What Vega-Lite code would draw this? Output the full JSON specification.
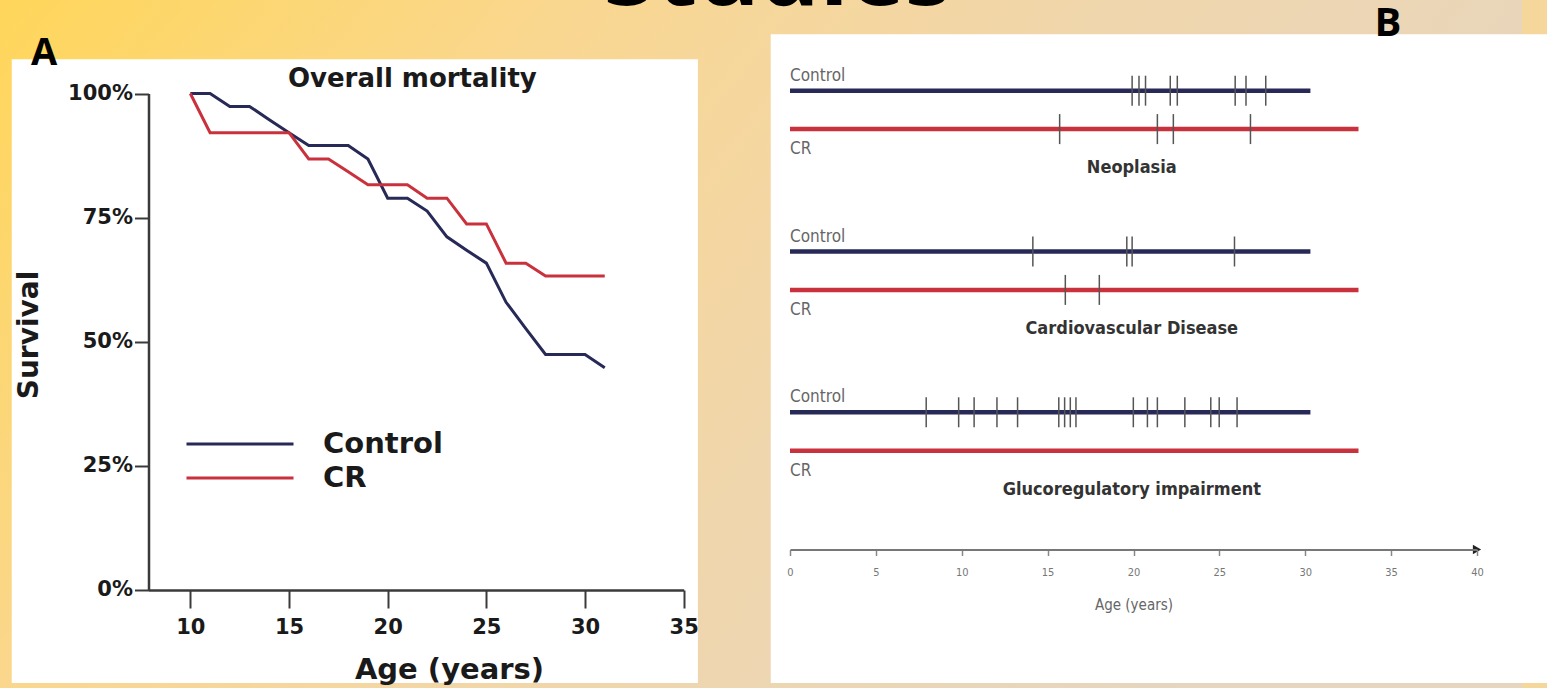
{
  "$schema": "https://vega.github.io/schema/vega-lite/v6.json",
  "width": 1547,
  "height": 688,
  "autosize": {"type": "fit", "contains": "padding"},
  "padding": 0,
  "background": "#F5D79C",
  "config": {"view": {"stroke": null}, "axis": {"grid": false, "zindex": 1}},
  "datasets": {
    "km": [
      {"group": "Control", "age": 10, "survival": 1},
      {"group": "Control", "age": 11, "survival": 1},
      {"group": "Control", "age": 12, "survival": 0.974},
      {"group": "Control", "age": 13, "survival": 0.974},
      {"group": "Control", "age": 14, "survival": 0.947},
      {"group": "Control", "age": 15, "survival": 0.921},
      {"group": "Control", "age": 16, "survival": 0.895},
      {"group": "Control", "age": 18, "survival": 0.895},
      {"group": "Control", "age": 19, "survival": 0.868},
      {"group": "Control", "age": 20, "survival": 0.789},
      {"group": "Control", "age": 21, "survival": 0.789},
      {"group": "Control", "age": 22, "survival": 0.763},
      {"group": "Control", "age": 23, "survival": 0.711},
      {"group": "Control", "age": 24, "survival": 0.684},
      {"group": "Control", "age": 25, "survival": 0.658},
      {"group": "Control", "age": 26, "survival": 0.579},
      {"group": "Control", "age": 27, "survival": 0.526},
      {"group": "Control", "age": 28, "survival": 0.474},
      {"group": "Control", "age": 30, "survival": 0.474},
      {"group": "Control", "age": 31, "survival": 0.447},
      {"group": "CR", "age": 10, "survival": 1},
      {"group": "CR", "age": 11, "survival": 0.921},
      {"group": "CR", "age": 15, "survival": 0.921},
      {"group": "CR", "age": 16, "survival": 0.868},
      {"group": "CR", "age": 17, "survival": 0.868},
      {"group": "CR", "age": 18, "survival": 0.842},
      {"group": "CR", "age": 19, "survival": 0.816},
      {"group": "CR", "age": 21, "survival": 0.816},
      {"group": "CR", "age": 22, "survival": 0.789},
      {"group": "CR", "age": 23, "survival": 0.789},
      {"group": "CR", "age": 24, "survival": 0.737},
      {"group": "CR", "age": 25, "survival": 0.737},
      {"group": "CR", "age": 26, "survival": 0.658},
      {"group": "CR", "age": 27, "survival": 0.658},
      {"group": "CR", "age": 28, "survival": 0.632},
      {"group": "CR", "age": 31, "survival": 0.632}
    ],
    "lines": [
      {"disease": "Neoplasia", "group": "Control", "start": 0, "end": 30.3},
      {"disease": "Neoplasia", "group": "CR", "start": 0, "end": 33.1},
      {"disease": "Cardiovascular Disease", "group": "Control", "start": 0, "end": 30.3},
      {"disease": "Cardiovascular Disease", "group": "CR", "start": 0, "end": 33.1},
      {"disease": "Glucoregulatory impairment", "group": "Control", "start": 0, "end": 30.3},
      {"disease": "Glucoregulatory impairment", "group": "CR", "start": 0, "end": 33.1}
    ],
    "events": [
      {"disease": "Neoplasia", "group": "Control", "age": 19.92},
      {"disease": "Neoplasia", "group": "Control", "age": 20.32},
      {"disease": "Neoplasia", "group": "Control", "age": 20.7},
      {"disease": "Neoplasia", "group": "Control", "age": 22.14},
      {"disease": "Neoplasia", "group": "Control", "age": 22.55},
      {"disease": "Neoplasia", "group": "Control", "age": 25.92},
      {"disease": "Neoplasia", "group": "Control", "age": 26.55},
      {"disease": "Neoplasia", "group": "Control", "age": 27.7},
      {"disease": "Neoplasia", "group": "CR", "age": 15.7},
      {"disease": "Neoplasia", "group": "CR", "age": 21.39},
      {"disease": "Neoplasia", "group": "CR", "age": 22.32},
      {"disease": "Neoplasia", "group": "CR", "age": 26.81},
      {"disease": "Cardiovascular Disease", "group": "Control", "age": 14.14},
      {"disease": "Cardiovascular Disease", "group": "Control", "age": 19.61},
      {"disease": "Cardiovascular Disease", "group": "Control", "age": 19.92},
      {"disease": "Cardiovascular Disease", "group": "Control", "age": 25.88},
      {"disease": "Cardiovascular Disease", "group": "CR", "age": 16.03},
      {"disease": "Cardiovascular Disease", "group": "CR", "age": 18.01},
      {"disease": "Glucoregulatory impairment", "group": "Control", "age": 7.93},
      {"disease": "Glucoregulatory impairment", "group": "Control", "age": 9.82},
      {"disease": "Glucoregulatory impairment", "group": "Control", "age": 10.72},
      {"disease": "Glucoregulatory impairment", "group": "Control", "age": 12.05},
      {"disease": "Glucoregulatory impairment", "group": "Control", "age": 13.25},
      {"disease": "Glucoregulatory impairment", "group": "Control", "age": 15.65},
      {"disease": "Glucoregulatory impairment", "group": "Control", "age": 15.99},
      {"disease": "Glucoregulatory impairment", "group": "Control", "age": 16.32},
      {"disease": "Glucoregulatory impairment", "group": "Control", "age": 16.65},
      {"disease": "Glucoregulatory impairment", "group": "Control", "age": 19.99},
      {"disease": "Glucoregulatory impairment", "group": "Control", "age": 20.81},
      {"disease": "Glucoregulatory impairment", "group": "Control", "age": 21.39},
      {"disease": "Glucoregulatory impairment", "group": "Control", "age": 22.99},
      {"disease": "Glucoregulatory impairment", "group": "Control", "age": 24.5},
      {"disease": "Glucoregulatory impairment", "group": "Control", "age": 24.99},
      {"disease": "Glucoregulatory impairment", "group": "Control", "age": 26.03}
    ]
  },
  "layer": [
    {
      "data": {"values": [{}]},
      "mark": {"type": "rect", "fill": {"gradient": "linear", "x1": 0, "y1": 0, "x2": 1, "y2": 0.35, "stops": [{"offset": 0, "color": "#FFD65A"}, {"offset": 0.35, "color": "#F9D792"}, {"offset": 0.65, "color": "#F0D6AC"}, {"offset": 1, "color": "#E6D5BF"}]}},
      "encoding": {}
    },
    {
      "layer": [
        {
          "data": {"values": [{}]},
          "mark": {"type": "rect", "fill": "white"},
          "encoding": {
            "x": {"datum": 0.95, "type": "quantitative"},
            "x2": {"datum": 35.72},
            "y": {"datum": -0.1885, "type": "quantitative"},
            "y2": {"datum": 1.069}
          }
        },
        {
          "data": {"values": [{}]},
          "mark": {"type": "rect", "fill": "white"},
          "encoding": {
            "x": {"datum": 39.41, "type": "quantitative"},
            "x2": {"datum": 80},
            "y": {"datum": -0.1885, "type": "quantitative"},
            "y2": {"datum": 1.1194}
          }
        },
        {
          "data": {"name": "km"},
          "mark": {"type": "line", "strokeWidth": 3},
          "encoding": {
            "x": {
              "field": "age", "type": "quantitative",
              "scale": {"domain": [7.88, 35], "range": [148.5, 683.7], "nice": false, "zero": false},
              "axis": {
                "orient": "bottom", "offset": -98, "values": [10, 15, 20, 25, 30, 35], "format": "d", "zindex": 1,
                "title": "Age (years)", "titleFont": "DejaVu Sans", "titleFontSize": 29, "titleFontWeight": "bold", "titleColor": "#1a1a1a",
                "titleX": 449, "titleY": 88, "titleAlign": "center", "titleBaseline": "alphabetic",
                "labelFont": "DejaVu Sans", "labelFontSize": 21, "labelFontWeight": "bold", "labelColor": "#1a1a1a",
                "labelPadding": 8, "labelFlush": false, "labelOverlap": false,
                "tickSize": 18, "tickWidth": 2, "tickColor": "#3a3a3a", "domainColor": "#3a3a3a", "domainWidth": 2.5
              }
            },
            "y": {
              "field": "survival", "type": "quantitative",
              "scale": {"domain": [0, 1], "range": [589.5, 93.5], "nice": false, "zero": false},
              "axis": {
                "orient": "left", "offset": -148.5, "values": [0, 0.25, 0.5, 0.75, 1], "format": ".0%", "zindex": 1,
                "title": "Survival", "titleFont": "DejaVu Sans", "titleFontSize": 28, "titleFontWeight": "bold", "titleColor": "#1a1a1a",
                "titleX": -111, "titleY": 334.5, "titleAngle": -90, "titleAlign": "center", "titleBaseline": "alphabetic",
                "labelFont": "DejaVu Sans", "labelFontSize": 21, "labelFontWeight": "bold", "labelColor": "#1a1a1a",
                "labelPadding": 2, "labelFlush": false, "labelOverlap": false,
                "tickSize": 14, "tickWidth": 2, "tickColor": "#3a3a3a", "domainColor": "#3a3a3a", "domainWidth": 2.5
              }
            },
            "color": {
              "field": "group", "type": "nominal",
              "scale": {"domain": ["Control", "CR"], "range": ["#272957", "#c9323d"]},
              "legend": {
                "orient": "none", "legendX": 223, "legendY": 427, "title": null, "direction": "vertical",
                "symbolType": "M-3.5,0H3.5", "symbolSize": 935, "symbolStrokeWidth": 3,
                "labelFont": "DejaVu Sans", "labelFontWeight": "bold", "labelFontSize": 29, "labelColor": "#1a1a1a",
                "labelOffset": 66, "rowPadding": 2, "padding": 0
              }
            }
          }
        },
        {
          "data": {"values": [{}]},
          "mark": {"type": "text", "text": "Overall mortality", "font": "DejaVu Sans", "fontWeight": "bold", "fontSize": 26, "color": "#1a1a1a", "align": "center", "baseline": "alphabetic"},
          "encoding": {"x": {"datum": 21.25, "type": "quantitative"}, "y": {"datum": 1.0125, "type": "quantitative"}}
        },
        {
          "data": {"values": [{}]},
          "mark": {"type": "text", "text": "A", "font": "Open Sans", "fontWeight": "bold", "fontSize": 38, "color": "#000000", "align": "center", "baseline": "alphabetic"},
          "encoding": {"x": {"datum": 2.59, "type": "quantitative"}, "y": {"datum": 1.0575, "type": "quantitative"}}
        },
        {
          "data": {"values": [{}]},
          "mark": {"type": "text", "text": "B", "font": "Open Sans", "fontWeight": "bold", "fontSize": 40, "color": "#000000", "align": "center", "baseline": "alphabetic"},
          "encoding": {"x": {"datum": 70.69, "type": "quantitative"}, "y": {"datum": 1.1159, "type": "quantitative"}}
        },
        {
          "data": {"values": [{}]},
          "mark": {"type": "text", "text": "Studies", "font": "Open Sans", "fontWeight": "bold", "fontSize": 95, "color": "#000000", "align": "center", "baseline": "alphabetic", "clip": true},
          "encoding": {"x": {"datum": 39.77, "type": "quantitative"}, "y": {"datum": 1.178, "type": "quantitative"}}
        }
      ]
    },
    {
      "layer": [
        {
          "data": {"name": "lines"},
          "mark": {"type": "rule", "strokeWidth": 4.5},
          "encoding": {
            "x": {
              "field": "start", "type": "quantitative",
              "scale": {"domain": [0, 40], "range": [790, 1477], "nice": false, "zero": false},
              "axis": {
                "orient": "bottom", "offset": -138.5, "values": [0, 5, 10, 15, 20, 25, 30, 35, 40], "format": "d", "zindex": 1,
                "title": "Age (years)", "titleFont": "Liberation Sans Narrow, DejaVu Sans Condensed", "titleFontSize": 15, "titleFontWeight": "normal", "titleColor": "#666666",
                "titleY": 54.5, "titleBaseline": "middle",
                "labelFont": "Liberation Sans Narrow, DejaVu Sans Condensed", "labelFontSize": 11, "labelColor": "#777777",
                "labelPadding": 11, "labelFlush": false, "labelOverlap": false,
                "tickSize": 6, "tickWidth": 1.5, "tickColor": "#888888", "domainColor": "#777777", "domainWidth": 2
              }
            },
            "x2": {"field": "end"},
            "y": {
              "field": "disease", "type": "nominal",
              "scale": {"type": "band", "domain": ["Neoplasia", "Cardiovascular Disease", "Glucoregulatory impairment"], "range": [29.5, 511.9], "paddingInner": 0, "paddingOuter": 0},
              "axis": null
            },
            "yOffset": {"field": "group", "type": "nominal", "scale": {"type": "point", "domain": ["Control", "CR"], "range": [61.2, 99.6], "padding": 0}},
            "color": {"field": "group", "type": "nominal", "scale": {"domain": ["Control", "CR"], "range": ["#272957", "#c9323d"]}}
          }
        },
        {
          "data": {"name": "events"},
          "mark": {"type": "point", "shape": "M0,-1V1", "size": 900, "filled": false, "stroke": "#555555", "strokeWidth": 1.5, "opacity": 1},
          "encoding": {
            "x": {"field": "age", "type": "quantitative"},
            "y": {"field": "disease", "type": "nominal"},
            "yOffset": {"field": "group", "type": "nominal"}
          }
        },
        {
          "data": {"name": "lines"},
          "transform": [{"filter": "datum.group === 'Control'"}],
          "mark": {"type": "text", "align": "left", "baseline": "middle", "dy": -15, "fontSize": 17, "font": "Liberation Sans Narrow, DejaVu Sans Condensed", "color": "#666666"},
          "encoding": {
            "x": {"field": "start", "type": "quantitative"},
            "y": {"field": "disease", "type": "nominal"},
            "yOffset": {"field": "group", "type": "nominal"},
            "text": {"field": "group"}
          }
        },
        {
          "data": {"name": "lines"},
          "transform": [{"filter": "datum.group === 'CR'"}],
          "mark": {"type": "text", "align": "left", "baseline": "middle", "dy": 20, "fontSize": 17, "font": "Liberation Sans Narrow, DejaVu Sans Condensed", "color": "#666666"},
          "encoding": {
            "x": {"field": "start", "type": "quantitative"},
            "y": {"field": "disease", "type": "nominal"},
            "yOffset": {"field": "group", "type": "nominal"},
            "text": {"field": "group"}
          }
        },
        {
          "data": {"name": "lines"},
          "transform": [{"filter": "datum.group === 'CR'"}],
          "mark": {"type": "text", "align": "center", "baseline": "middle", "dy": 39, "fontSize": 18, "fontWeight": "bold", "font": "Liberation Sans Narrow, DejaVu Sans Condensed", "color": "#333333"},
          "encoding": {
            "x": {"datum": 19.9, "type": "quantitative"},
            "y": {"field": "disease", "type": "nominal"},
            "yOffset": {"field": "group", "type": "nominal"},
            "text": {"field": "disease"}
          }
        }
      ]
    },
    {
      "data": {"values": [{}]},
      "mark": {"type": "point", "shape": "triangle-right", "filled": true, "color": "#222222", "size": 90, "opacity": 1},
      "encoding": {
        "x": {"datum": 40, "type": "quantitative", "scale": {"domain": [0, 40], "range": [790, 1477], "nice": false, "zero": false}, "axis": null},
        "y": {"datum": 0, "type": "quantitative", "scale": {"domain": [0, 1], "range": [549.5, 0], "nice": false}, "axis": null}
      }
    }
  ],
  "resolve": {"scale": {"x": "independent", "y": "independent"}, "axis": {"x": "independent", "y": "independent"}}
}
